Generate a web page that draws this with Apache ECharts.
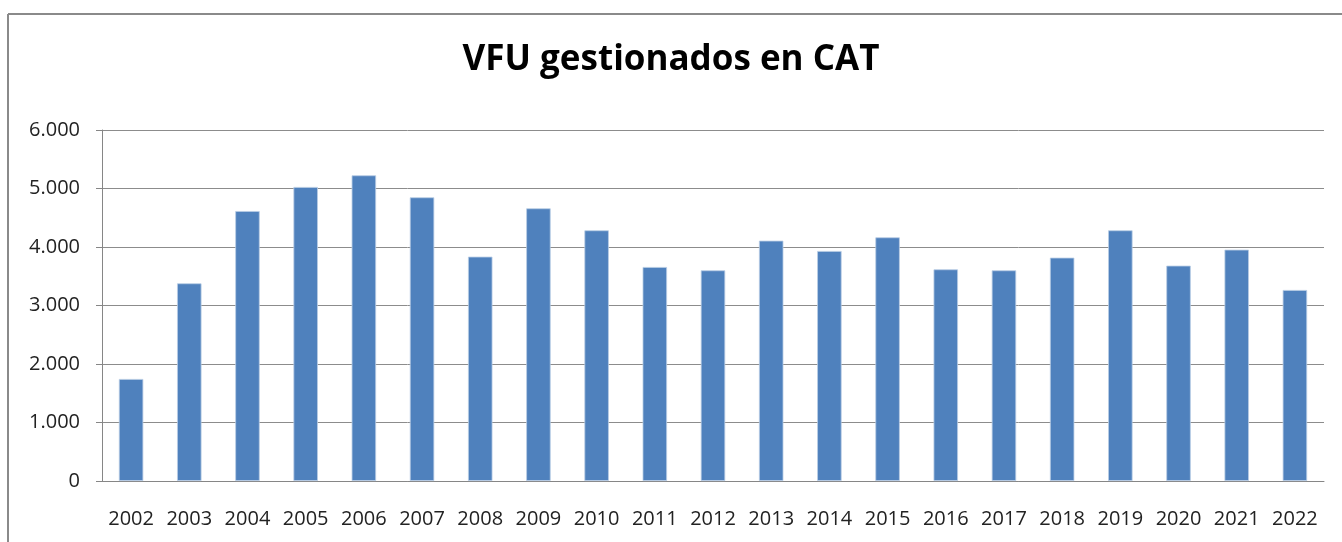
<!DOCTYPE html>
<html>
<head>
<meta charset="utf-8">
<script src="https://cdn.jsdelivr.net/npm/echarts@6/dist/echarts.min.js"></script>
<style>
  html, body { margin: 0; padding: 0; background: #fff; }
  #chart { width: 1342px; height: 542px; }
</style>
</head>
<body>
<div id="chart"></div>
<script>
var years = ["2002", "2003", "2004", "2005", "2006", "2007", "2008", "2009", "2010", "2011", "2012",
  "2013", "2014", "2015", "2016", "2017", "2018", "2019", "2020", "2021", "2022"];
var vfu = [1744, 3379, 4615, 5026, 5225, 4849, 3835, 4661, 4285, 3658, 3601,
  4108, 3932, 4165, 3618, 3601, 3818, 4285, 3681, 3954, 3265];
var yMax = 6000;
var yStep = 1000;

var myChart = echarts.init(document.getElementById("chart"));

function miles(v) {
  // 6000 -> 6.000
  return String(v).replace(/\B(?=(\d{3})+(?!\d))/g, ".");
}

myChart.setOption({
  animation: false,
  title: {
    text: "VFU gestionados en CAT",
    left: "center",
    top: 38,
    textStyle: { fontFamily: "Open Sans", fontWeight: "bold", fontSize: 35, color: "#000" }
  },
  // marco gris arriba/izquierda como en la captura
  graphic: [
    { type: "line", shape: { x1: 8, y1: 14, x2: 1342, y2: 14 }, style: { stroke: "#8a8a8a", lineWidth: 2 } },
    { type: "line", shape: { x1: 8, y1: 14, x2: 8, y2: 542 }, style: { stroke: "#8a8a8a", lineWidth: 2 } }
  ],
  grid: { left: 102, right: 18, top: 130, bottom: 61 },
  xAxis: {
    type: "category",
    data: years,
    axisLine: { lineStyle: { color: "#868686" } },
    axisTick: { length: 9, lineStyle: { color: "#868686" } },
    axisLabel: { interval: 0, hideOverlap: false, margin: 28, fontFamily: "Open Sans", fontSize: 20, color: "#222" }
  },
  yAxis: {
    type: "value",
    min: 0,
    max: yMax,
    interval: yStep,
    axisLine: { show: true, lineStyle: { color: "#868686" } },
    axisTick: { show: true, length: 6, lineStyle: { color: "#868686" } },
    splitLine: { lineStyle: { color: "#8c8c8c", width: 1 } },
    axisLabel: { margin: 22, fontFamily: "Open Sans", fontSize: 20, color: "#222", formatter: miles }
  },
  series: [
    {
      type: "bar",
      data: vfu,
      barWidth: "42%",
      itemStyle: { color: "#4f81bd", borderColor: "#b9cde5", borderWidth: 0.8 }
    }
  ]
});
</script>
</body>
</html>
